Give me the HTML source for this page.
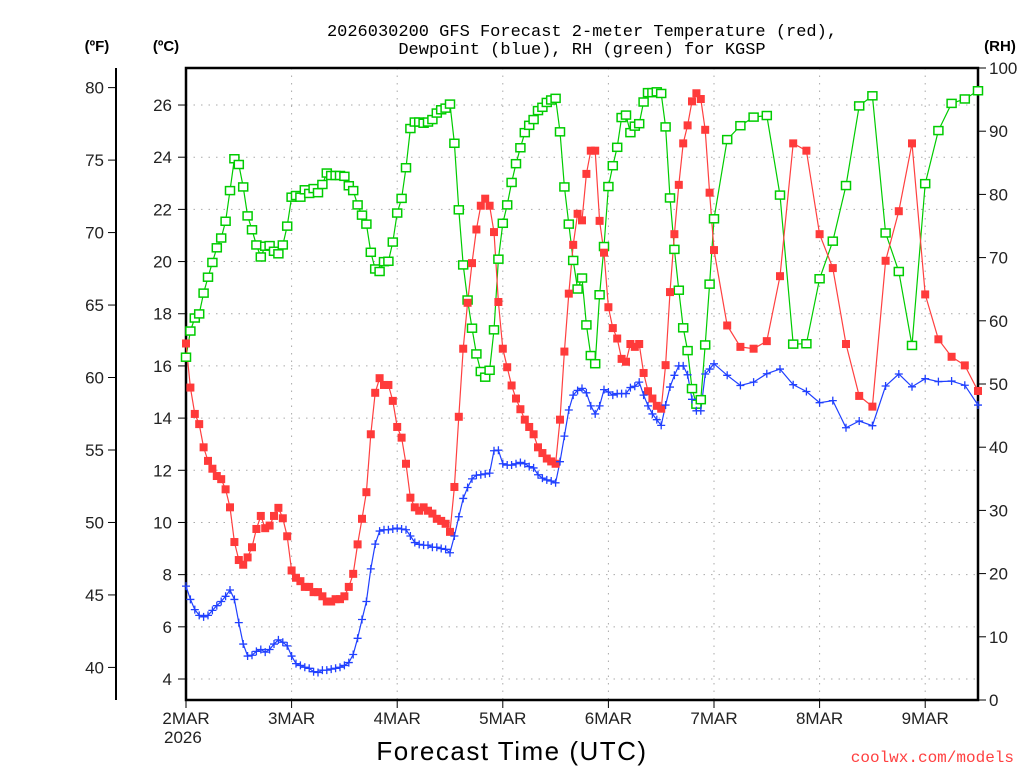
<!DOCTYPE html>
<html><head><meta charset="utf-8"><style>
html,body{margin:0;padding:0;background:#fff;}
svg{display:block;font-family:"Liberation Sans",sans-serif;}
</style></head><body>
<svg id="chart" width="1024" height="768" viewBox="0 0 1024 768" xmlns="http://www.w3.org/2000/svg">
<rect width="1024" height="768" fill="#fff"/>
<text x="582" y="36" text-anchor="middle" font-family="Liberation Mono, monospace" font-size="17">2026030200 GFS Forecast 2-meter Temperature (red),</text>
<text x="582" y="54" text-anchor="middle" font-family="Liberation Mono, monospace" font-size="17">Dewpoint (blue), RH (green) for KGSP</text>
<text x="97" y="51" text-anchor="middle" font-weight="bold" font-size="15">(ºF)</text>
<text x="166" y="51" text-anchor="middle" font-weight="bold" font-size="15">(ºC)</text>
<text x="1000" y="51" text-anchor="middle" font-weight="bold" font-size="15">(RH)</text>
<text x="512" y="760" text-anchor="middle" font-size="26" letter-spacing="1.5">Forecast Time (UTC)</text>
<text x="1014" y="762" text-anchor="end" fill="#ff4040" font-family="Liberation Mono, monospace" font-size="16">coolwx.com/models</text>
<g id="grid"></g><g id="axes"></g><g id="series"></g>
</svg>
<script>
const hours=[0,1,2,3,4,5,6,7,8,9,10,11,12,13,14,15,16,17,18,19,20,21,22,23,24,25,26,27,28,29,30,31,32,33,34,35,36,37,38,39,40,41,42,43,44,45,46,47,48,49,50,51,52,53,54,55,56,57,58,59,60,61,62,63,64,65,66,67,68,69,70,71,72,73,74,75,76,77,78,79,80,81,82,83,84,85,86,87,88,89,90,91,92,93,94,95,96,97,98,99,100,101,102,103,104,105,106,107,108,109,110,111,112,113,114,115,116,117,118,119,120,123,126,129,132,135,138,141,144,147,150,153,156,159,162,165,168,171,174,177,180];
const tempC=[16.86,15.17,14.16,13.77,12.88,12.36,12.06,11.78,11.66,11.27,10.58,9.25,8.56,8.38,8.66,9.05,9.75,10.25,9.78,9.88,10.25,10.56,10.16,9.47,8.16,
7.88,7.75,7.53,7.53,7.33,7.33,7.17,6.97,6.97,7.06,7.06,7.17,7.53,8.03,9.16,10.14,11.16,13.38,14.97,15.53,15.27,15.27,14.66,13.66,
13.25,12.25,10.95,10.58,10.45,10.58,10.45,10.34,10.14,10.06,9.95,9.64,11.36,14.05,16.66,18.42,19.94,21.23,22.14,22.41,22.14,21.13,18.45,16.66,
15.95,15.25,14.75,14.34,13.94,13.66,13.38,12.88,12.66,12.45,12.34,12.25,13.94,16.55,18.77,20.64,21.83,21.58,23.36,24.25,24.25,21.56,20.34,18.25,
17.45,17.05,16.27,16.16,16.84,16.73,16.84,15.73,15.03,14.75,14.47,14.36,16.03,18.83,21.05,22.94,24.53,25.22,26.14,26.45,26.23,25.05,22.64,20.44,
17.55,16.73,16.66,16.95,19.44,24.53,24.25,21.05,19.75,16.84,14.85,14.44,20.03,21.93,24.53,18.74,17.02,16.35,16.02,15.04];
const dewC=[7.56,7.05,6.66,6.44,6.38,6.44,6.63,6.81,6.97,7.17,7.41,7.05,6.16,5.34,4.88,4.91,5.06,5.13,5.03,5.13,5.34,5.5,5.41,5.27,4.88,
4.59,4.52,4.45,4.41,4.28,4.25,4.34,4.34,4.38,4.41,4.45,4.52,4.63,4.94,5.56,6.28,6.97,8.22,9.17,9.67,9.72,9.72,9.75,9.78,
9.75,9.72,9.48,9.23,9.16,9.13,9.13,9.05,9.05,9.0,8.97,8.84,9.48,10.22,10.92,11.34,11.67,11.81,11.83,11.86,11.89,12.75,12.77,12.25,
12.2,12.2,12.25,12.3,12.25,12.14,12.09,11.83,11.7,11.63,11.59,11.52,12.33,13.31,14.31,14.88,15.06,15.14,14.97,14.47,14.16,14.47,15.09,15.0,
14.88,14.94,14.94,14.94,15.17,15.22,15.38,14.88,14.47,14.16,13.94,13.72,14.5,15.19,15.64,16.0,16.0,15.66,14.72,14.28,14.28,15.69,15.88,16.08,
15.64,15.25,15.38,15.7,15.88,15.28,15.02,14.59,14.67,13.63,13.89,13.71,15.23,15.69,15.2,15.51,15.4,15.42,15.26,14.5];
const rh=[54.24,58.38,60.44,61.09,64.38,66.9,69.23,71.55,73.1,75.75,80.6,85.64,84.73,81.18,76.6,74.4,72.0,70.1,71.8,71.9,71.0,70.6,72.0,74.98,79.56,
79.82,79.56,80.73,80.15,80.92,80.27,81.57,83.38,82.99,82.99,82.99,82.86,81.37,80.6,78.34,76.72,75.3,70.84,68.2,67.8,69.36,69.42,72.46,77.05,
79.37,84.22,90.42,91.45,91.45,91.26,91.45,91.84,92.87,93.39,93.65,94.29,88.09,77.56,68.84,63.29,58.83,54.76,51.98,51.08,52.17,58.57,69.75,75.43,
78.34,81.89,84.86,87.38,89.77,90.93,91.84,93.26,93.78,94.55,94.94,95.2,89.9,81.18,75.3,69.55,65.03,66.77,59.35,54.5,53.21,64.12,71.75,81.24,
84.54,87.45,92.16,92.55,89.77,90.8,91.19,94.62,96.1,96.1,96.23,95.97,90.68,79.44,71.3,64.84,58.89,55.28,49.27,46.81,47.52,56.18,65.8,76.14,
88.67,90.87,92.23,92.48,79.89,56.31,56.37,66.65,72.6,81.4,94.0,95.6,73.9,67.8,56.1,81.7,90.1,94.4,95.1,96.4];
const dayLabels=["2MAR","3MAR","4MAR","5MAR","6MAR","7MAR","8MAR","9MAR"];
const cTicks=[4,6,8,10,12,14,16,18,20,22,24,26];
const fTicks=[40,45,50,55,60,65,70,75,80];
const rhTicks=[0,10,20,30,40,50,60,70,80,90,100];

const L=186,R=978,T=68,B=700;
const xS=h=>L+h*(R-L)/180;
const yC=c=>679-(c-4)*26.09;
const yF=f=>yC((f-32)/1.8);
const yRH=r=>B-r*(B-T)/100;
const NS="http://www.w3.org/2000/svg";
function mk(tag,attrs,parent){const e=document.createElementNS(NS,tag);for(const k in attrs)e.setAttribute(k,attrs[k]);parent.appendChild(e);return e;}
const grid=document.getElementById('grid'),axes=document.getElementById('axes'),ser=document.getElementById('series');

cTicks.forEach(c=>{
  const g=mk('line',{x1:L,x2:R,y1:yC(c),y2:yC(c),stroke:'#aaa','stroke-width':1,'stroke-dasharray':'1.5,6'},grid);
  
  
  const t=mk('line',{x1:L-8,x2:L,y1:yC(c),y2:yC(c),stroke:'#000','stroke-width':1},axes);
  
  
  const tx=mk('text',{x:L-14,y:yC(c)+6,'text-anchor':'end','font-size':17,fill:'#222'},axes);
  tx.textContent=c;
  
  
});
dayLabels.forEach((d,i)=>{
  const x=xS(i*24);
  const g=mk('line',{x1:x,x2:x,y1:T,y2:B,stroke:'#aaa','stroke-width':1,'stroke-dasharray':'1.5,6'},grid);
  
  
  const t=mk('line',{x1:x,x2:x,y1:B,y2:B+8,stroke:'#000','stroke-width':1},axes);
  
  
  const tx=mk('text',{x:x,y:724,'text-anchor':'middle','font-size':17,fill:'#222'},axes);
  tx.textContent=d;
  
  
});
const yr=mk('text',{x:xS(0)-22,y:743,'font-size':17,fill:'#222'},axes);
yr.textContent='2026';



const fl=mk('line',{x1:116,x2:116,y1:T,y2:B,stroke:'#000','stroke-width':2},axes);


fTicks.forEach(f=>{
  const t=mk('line',{x1:108,x2:116,y1:yF(f),y2:yF(f),stroke:'#000','stroke-width':1},axes);
  
  
  const tx=mk('text',{x:104,y:yF(f)+6,'text-anchor':'end','font-size':17,fill:'#222'},axes);
  tx.textContent=f;
  
  
});
rhTicks.forEach(r=>{
  const t=mk('line',{x1:R,x2:R+8,y1:yRH(r),y2:yRH(r),stroke:'#000','stroke-width':1},axes);
  
  
  const tx=mk('text',{x:R+11,y:yRH(r)+6,'font-size':17,fill:'#222'},axes);
  tx.textContent=r;
  
  
});
const fr=mk('rect',{x:L,y:T,width:R-L,height:B-T,fill:'none',stroke:'#000','stroke-width':2.5},axes);



function line(vals,yf,color,name){
  const p=mk('polyline',{points:vals.map((v,i)=>xS(hours[i]).toFixed(1)+','+yf(v).toFixed(1)).join(' '),fill:'none',stroke:color,'stroke-width':1.2},ser);
  
  
}
line(rh,yRH,'#00cc00','rh-line');
line(tempC,yC,'#ff4040','temperature-line');
line(dewC,yC,'#2040ff','dewpoint-line');
rh.forEach((v,i)=>{
  const m=mk('rect',{x:xS(hours[i])-4.5,y:yRH(v)-4,width:9,height:8,fill:'#fff',stroke:'#00cc00','stroke-width':1.5},ser);
  
  
});
tempC.forEach((v,i)=>{
  const m=mk('rect',{x:xS(hours[i])-4,y:yC(v)-4,width:8,height:8,fill:'#ff3a3a'},ser);
  
  
});
dewC.forEach((v,i)=>{
  const x=xS(hours[i]),y=yC(v);
  const m=mk('path',{d:`M${x-4},${y}H${x+4}M${x},${y-4}V${y+4}`,stroke:'#2040ff','stroke-width':1.3,fill:'none'},ser);
  
  
});
</script>
</body></html>
